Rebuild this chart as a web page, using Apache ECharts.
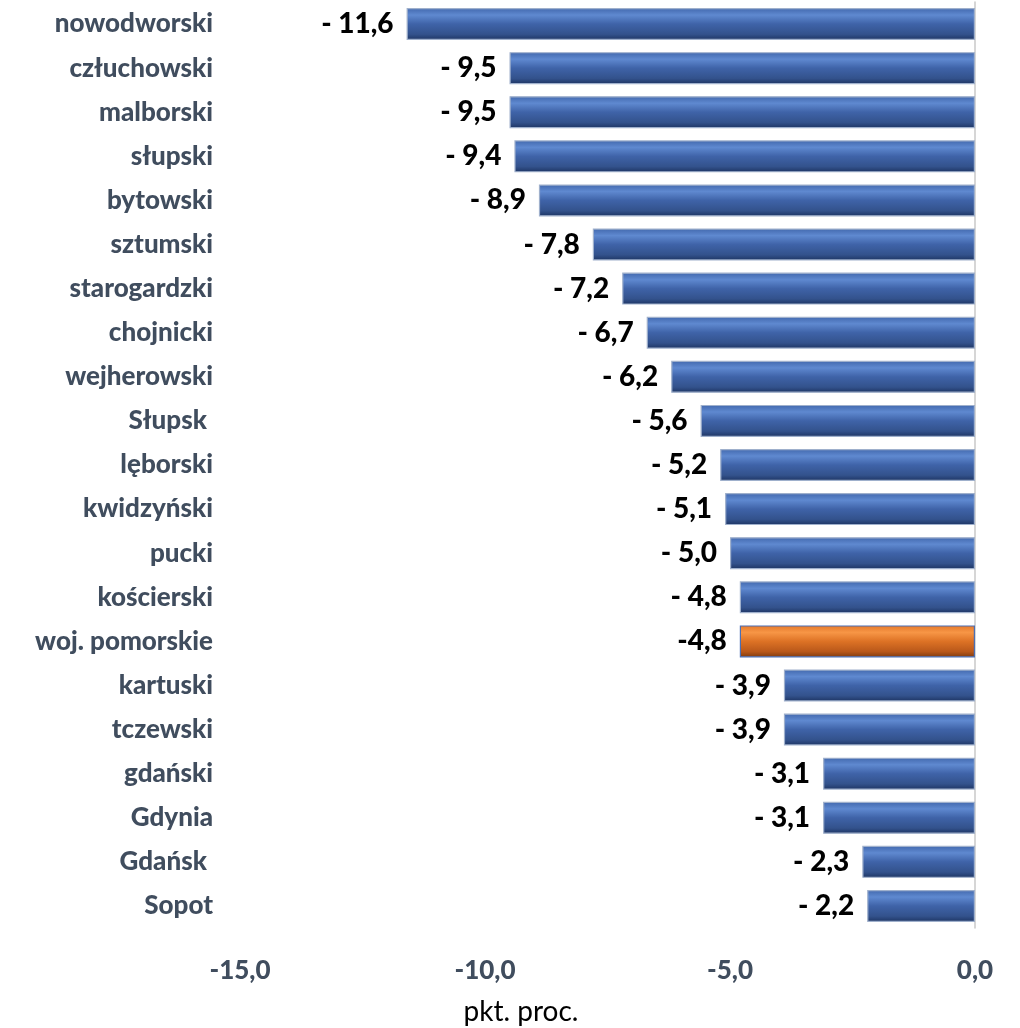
<!DOCTYPE html>
<html><head><meta charset="utf-8">
<script src="https://cdn.jsdelivr.net/npm/echarts@6/dist/echarts.min.js"></script>
<style>html,body{margin:0;padding:0;background:#fff}#c{width:1020px;height:1028px}</style>
</head><body><div id="c"></div>
<script>
const categories = ['nowodworski','człuchowski','malborski','słupski','bytowski','sztumski','starogardzki','chojnicki','wejherowski','Słupsk ','lęborski','kwidzyński','pucki','kościerski','woj. pomorskie','kartuski','tczewski','gdański','Gdynia','Gdańsk ','Sopot'];
const values = [-11.6,-9.5,-9.5,-9.4,-8.9,-7.8,-7.2,-6.7,-6.2,-5.6,-5.2,-5.1,-5.0,-4.8,-4.8,-3.9,-3.9,-3.1,-3.1,-2.3,-2.2];
const highlight = 'woj. pomorskie';
const xTicks = {min: -15, max: 0, interval: 5};
const axisTitle = 'pkt. proc.';

const FONT = 'Lato, "Open Sans", sans-serif';
const blueGrad = new echarts.graphic.LinearGradient(0,0,0,1,[
  {offset:0, color:'#4268ad'},{offset:0.22, color:'#5f89d0'},{offset:0.5, color:'#3f63a8'},
  {offset:0.82, color:'#33528c'},{offset:1, color:'#1d3462'}]);
const orangeGrad = new echarts.graphic.LinearGradient(0,0,0,1,[
  {offset:0, color:'#e4782a'},{offset:0.22, color:'#f79646'},{offset:0.5, color:'#dd7225'},
  {offset:0.82, color:'#b9581a'},{offset:1, color:'#7e3a0e'}]);

const chart = echarts.init(document.getElementById('c'));
chart.setOption({
  animation:false,
  grid:{left:240, right:45, top:2, bottom:100},
  xAxis:{type:'value', min:xTicks.min, max:xTicks.max, interval:xTicks.interval,
    axisLine:{show:false}, axisTick:{show:false}, splitLine:{show:false},
    axisLabel:{margin:30, fontFamily:FONT, fontWeight:900, fontSize:26, color:'#404d5e',
      formatter:v=>v.toFixed(1).replace('.',',')}},
  yAxis:[{type:'category', data:categories, inverse:true,
    axisLine:{show:false}, axisTick:{show:false},
    axisLabel:{margin:27, fontFamily:FONT, fontWeight:900, fontSize:26, color:'#404d5e'}},
    {type:'category', data:categories, inverse:true, position:'right',
    axisLine:{show:true, onZero:false, lineStyle:{color:'#c8c8c8', width:1.5}}, axisTick:{show:false}, axisLabel:{show:false}}],
  graphic:[{type:'text', x:521, y:1012, style:{text:axisTitle, fontFamily:FONT, fontSize:28, fill:'#000', textAlign:'center', textVerticalAlign:'middle'}}],
  series:[{type:'bar', barWidth:32, yAxisIndex:0,
    data: values.map((v,i)=>({value:v, itemStyle:{color: categories[i]===highlight?orangeGrad:blueGrad,
      borderColor: categories[i]===highlight?'#4a6fb5':'#9fb0cc', borderWidth:1.2}})),
    label:{show:true, position:'left', distance:13, fontFamily:FONT, fontWeight:900, fontSize:28, color:'#000',
      formatter:p=>(p.name===highlight?'-':'- ')+Math.abs(p.value).toFixed(1).replace('.',',')}}]
});
</script></body></html>
